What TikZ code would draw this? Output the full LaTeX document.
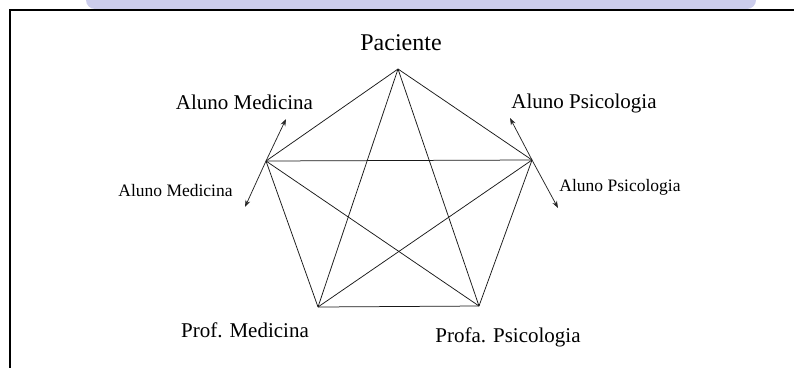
\documentclass[tikz,border=0pt]{standalone}
\usepackage{fontspec}
\setmainfont{Liberation Serif}
\usetikzlibrary{arrows.meta}
\definecolor{bandblue}{RGB}{204,205,236}
\tikzset{
  edge/.style={line width=0.75pt, black!90},
  arr/.style={line width=0.75pt, black!85, -{Stealth[length=7pt,width=5pt]}},
  biglbl/.style={font=\fontsize{21}{24}\selectfont, inner sep=0pt},
  smalllbl/.style={font=\fontsize{17.5}{20}\selectfont, inner sep=0pt},
  toplbl/.style={font=\fontsize{24}{27}\selectfont, inner sep=0pt},
}
\begin{document}
\begin{tikzpicture}[x=1pt,y=-1pt]
\useasboundingbox (0,0) rectangle (794,367);
\begin{scope}
\clip (0,0) rectangle (794,367);
\fill[bandblue, rounded corners=9pt] (86,-20) rectangle (756,9);
\draw[line width=2pt] (10,380) -- (10,10) -- (810,10);
\end{scope}
% vertices
\coordinate (P) at (398,69);
\coordinate (L) at (266,161);
\coordinate (R) at (532,160);
\coordinate (BL) at (318,307);
\coordinate (BR) at (479,306);
% arrow tips
\coordinate (Lu) at (286,119);
\coordinate (Ld) at (245,207);
\coordinate (Ru) at (510,118);
\coordinate (Rd) at (558,208);
% complete graph
\draw[edge] (P) -- (L);
\draw[edge] (P) -- (R);
\draw[edge] (P) -- (BL);
\draw[edge] (P) -- (BR);
\draw[edge] (L) -- (R);
\draw[edge] (L) -- (BL);
\draw[edge] (L) -- (BR);
\draw[edge] (R) -- (BL);
\draw[edge] (R) -- (BR);
\draw[edge] (BL) -- (BR);
% arrows
\draw[arr] (L) -- (Lu);
\draw[arr] (L) -- (Ld);
\draw[arr] (R) -- (Ru);
\draw[arr] (R) -- (Rd);
% labels
\node[toplbl] (tP) at (401,43) {Paciente};
\node[biglbl] (tL) at (244.5,102) {Aluno Medicina};
\node[biglbl] (tR) at (584,103) {Aluno Psicologia};
\node[smalllbl] (tLs) at (175.5,191) {Aluno Medicina};
\node[smalllbl] (tRs) at (620,187) {Aluno Psicologia};
\node[biglbl] (tBL) at (245,330) {Prof. Medicina};
\node[biglbl] (tBR) at (508,337) {Profa. Psicologia};
\end{tikzpicture}
\end{document}
